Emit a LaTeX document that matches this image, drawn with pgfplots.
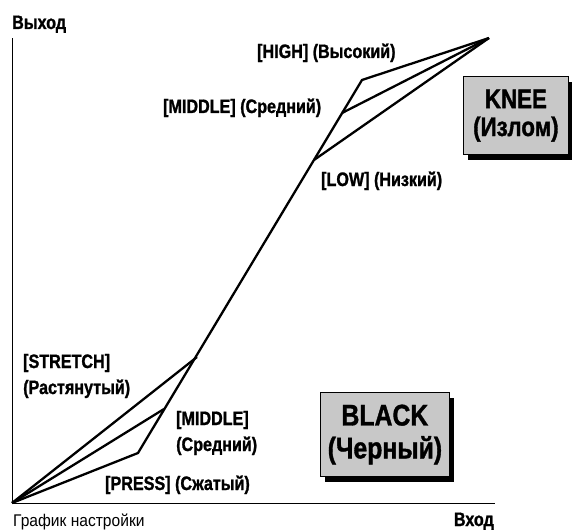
\documentclass[border=0pt]{standalone}
\usepackage{pgfplots}
\pgfplotsset{compat=1.18}
\usepackage{fontspec}
\setmainfont{Liberation Sans}[FakeStretch=0.84]
\newfontfamily\boldc{Liberation Sans Bold}[FakeStretch=0.83, FakeBold=1.2]
\newfontfamily\labelfont{Liberation Sans}[FakeStretch=0.92]

\definecolor{boxgray}{RGB}{200,200,200}

\tikzset{
  lbl/.style={anchor=base west, inner sep=0pt, font=\boldc\fontsize{19.5}{21}\selectfont},
  badge/.style={draw=black, line width=0.8pt, fill=boxgray, inner sep=0pt,
    align=center, font=\boldc\fontsize{27}{28}\selectfont},
  curve/.style={black, line width=2.3pt, mark=none},
}

\begin{document}
\begin{tikzpicture}
\useasboundingbox (-12bp,-27bp) rectangle (560bp,503bp);
\begin{axis}[
  x=1bp, y=1bp,
  xmin=0, xmax=483, ymin=0, ymax=465,
  axis lines=left,
  axis line style={-, line width=0.9pt},
  xtick=\empty, ytick=\empty,
  clip=false,
]
% press / high path
\addplot[curve] coordinates {(0,0) (126,50) (350,423) (477,465)};
% middle (black)
\addplot[curve] coordinates {(0,0) (152,94)};
% stretch
\addplot[curve] coordinates {(0,0) (185,146)};
% low (knee)
\addplot[curve] coordinates {(302,343) (477,465)};
% middle (knee)
\addplot[curve] coordinates {(330,390) (477,465)};

\node[lbl] at (axis cs:0,474) {Выход};
\node[lbl] at (axis cs:245,445) {[HIGH] (Высокий)};
\node[lbl] at (axis cs:151,390) {[MIDDLE] (Средний)};
\node[lbl] at (axis cs:309,317) {[LOW] (Низкий)};
\node[lbl] at (axis cs:11,135) {[STRETCH]};
\node[lbl] at (axis cs:11,109) {(Растянутый)};
\node[lbl] at (axis cs:164,78) {[MIDDLE]};
\node[lbl] at (axis cs:164,52) {(Средний)};
\node[lbl] at (axis cs:93,13) {[PRESS] (Сжатый)};

% badges with shadow
\fill[black] (axis cs:456,343) rectangle (axis cs:560,421);
\node[badge, minimum width=105bp, minimum height=78bp, anchor=south west] at (axis cs:451,348) {KNEE\\(Излом)};
\fill[black] (axis cs:313,21) rectangle (axis cs:442,105);
\node[badge, minimum width=129bp, minimum height=84bp, anchor=south west,
  font=\boldc\fontsize{30}{33}\selectfont] at (axis cs:308,26) {BLACK\\(Черный)};

\node[lbl, anchor=base east] at (axis cs:482,-23) {Вход};
\node[anchor=base west, inner sep=0pt, font=\labelfont\fontsize{17}{19}\selectfont] at (axis cs:1,-23) {График настройки};
\end{axis}
\end{tikzpicture}
\end{document}
